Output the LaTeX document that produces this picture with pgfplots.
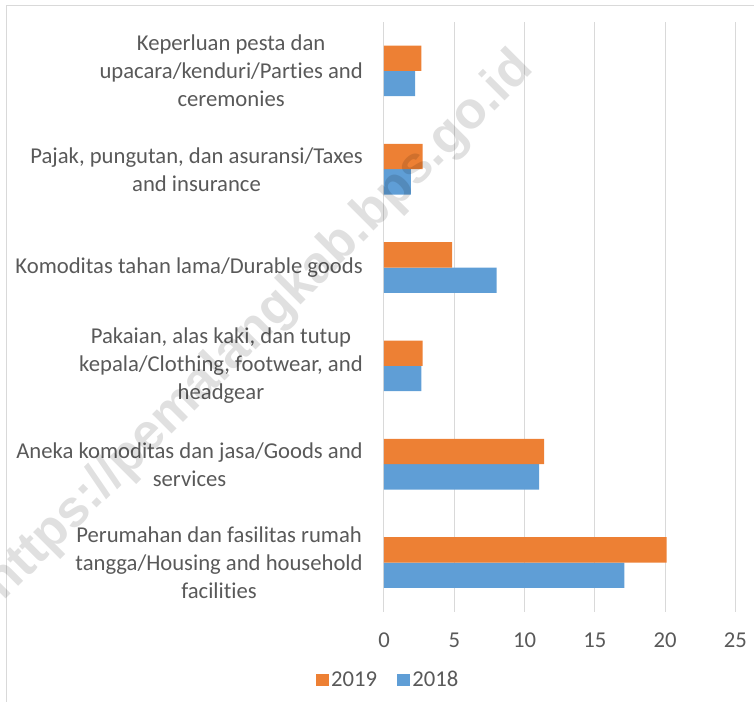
\documentclass[border=0pt]{standalone}
\usepackage{fontspec}
\setmainfont{Carlito}[Ligatures=NoCommon]
\newfontfamily\wmfont{Liberation Sans}
\usepackage{pgfplots}
\pgfplotsset{compat=1.18}
\definecolor{txt}{RGB}{89,89,89}
\definecolor{grd}{RGB}{217,217,217}
\definecolor{org}{RGB}{237,128,52}
\definecolor{blu}{RGB}{95,158,214}
\begin{document}
\begin{tikzpicture}
\path[use as bounding box] (0pt,0pt) rectangle (565.5pt,-526.5pt);
\clip (0pt,0pt) rectangle (565.5pt,-526.5pt);
\draw[grd, line width=0.75pt] (4.5pt,-4.5pt) rectangle (620pt,-600pt);
\begin{axis}[
  at={(288pt,-458.8pt)}, anchor=south west,
  scale only axis, width=263.5pt, height=442.5pt,
  xbar, bar width=19pt,
  xmin=0, xmax=25, ymin=-0.5, ymax=5.5,
  xtick={0,5,...,25},
  ytick={0,1,2,3,4,5},
  yticklabels={
    {Perumahan dan fasilitas rumah\\tangga/Housing and household\\facilities},
    {Aneka komoditas dan jasa/Goods and\\services},
    {Pakaian, alas kaki, dan tutup\\kepala/Clothing, footwear, and\\headgear},
    {Komoditas tahan lama/Durable goods},
    {Pajak, pungutan, dan asuransi/Taxes\\and insurance},
    {Keperluan pesta dan\\upacara/kenduri/Parties and\\ceremonies}},
  axis line style={draw=none},
  tick style={draw=none},
  xmajorgrids, major grid style={grd, line width=0.75pt},
  /pgf/number format/assume math mode=true,
  ticklabel style={font=\fontsize{17}{21}\selectfont, text=txt},
  xticklabel style={anchor=center, yshift=-21.2pt},
  yticklabel style={anchor=east, align=center, inner sep=0pt, xshift=-11.5pt},
  reverse legend,
  legend style={at={(0.0128,-0.1158)}, anchor=center, draw=none, fill=none,
    legend columns=2, font=\fontsize{17}{21}\selectfont, text=txt,
    /tikz/every even column/.append style={column sep=13pt}},
  legend image code/.code={\fill[#1] (0pt,-4.75pt) rectangle (9.5pt,4.75pt);},
]
\addplot[fill=blu, draw=none, bar shift=-9.5pt] coordinates {
  (17.10,0) (11.03,1) (2.66,2) (8.02,3) (1.92,4) (2.21,5)};
\addlegendentry{2018}
\addplot[fill=org, draw=none, bar shift=9.5pt] coordinates {
  (20.12,0) (11.39,1) (2.75,2) (4.84,3) (2.75,4) (2.66,5)};
\addlegendentry{2019}
\end{axis}
\node[rotate=45, text=black, text opacity=0.12, font=\wmfont\fontsize{39}{42}\bfseries\selectfont] at (195pt,-245pt) {https://pemalangkab.bps.go.id};
\end{tikzpicture}
\end{document}
